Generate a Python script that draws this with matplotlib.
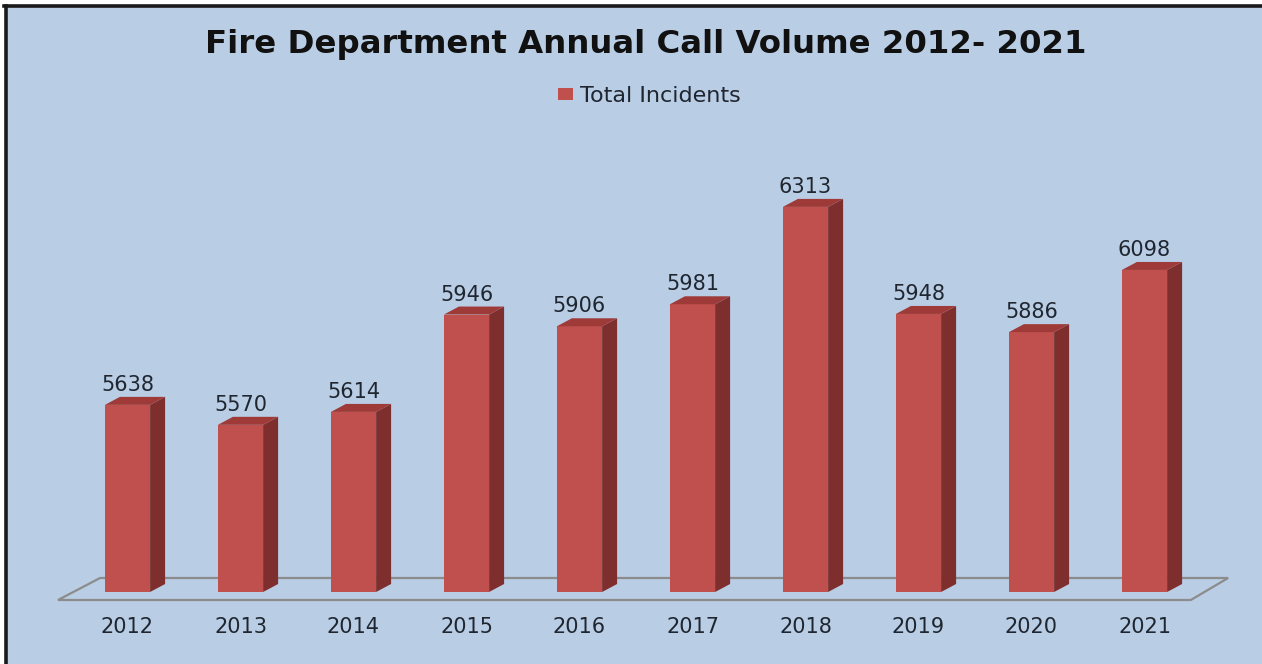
import matplotlib
matplotlib.use("Agg")
import matplotlib.pyplot as plt
from matplotlib.patches import Polygon, Rectangle, Patch
from matplotlib.lines import Line2D
import numpy as np

# ---- data ----
years = ["2012", "2013", "2014", "2015", "2016", "2017", "2018", "2019", "2020", "2021"]
incidents = [5638, 5570, 5614, 5946, 5906, 5981, 6313, 5948, 5886, 6098]
series_name = "Total Incidents"
title = "Fire Department Annual Call Volume 2012- 2021"

# ---- style ----
W, H, DPI = 1262, 664, 100
BG = "#B9CDE5"
FRONT = "#C0504D"
SIDE = "#7E2F2D"
TOP = "#9E3B38"
TXT = "#1F2630"
FLOOR = "#8C8C8C"
BASE = 5000
PX_PER_CAT = 113.0
PX_PER_UNIT = 0.2933
X0_PX = 127.5      # pixel x of first category centre
BASE_PX = 592.0    # pixel y of the bar base
BAR_W = 0.40
DEPTH_PX = (15, 8)

fig = plt.figure(figsize=(W / DPI, H / DPI), dpi=DPI, facecolor="white")
# framed background
fig.patches.append(Rectangle((5.5 / W, 0), 1.0, 1 - 5.5 / H,
                             transform=fig.transFigure, facecolor=BG,
                             edgecolor="none", zorder=-5))
fig.lines.append(Line2D([5.5 / W, 5.5 / W], [0, 1 - 5.5 / H], transform=fig.transFigure,
                        color="#1a1a1a", linewidth=2.6, zorder=-4))
fig.lines.append(Line2D([4.2 / W, 1], [1 - 5.5 / H, 1 - 5.5 / H], transform=fig.transFigure,
                        color="#1a1a1a", linewidth=2.6, zorder=-4))

ax = fig.add_axes([0, 0, 1, 1])
ax.set_facecolor("none")
ax.set_axis_off()
xlim = (-X0_PX / PX_PER_CAT, (W - X0_PX) / PX_PER_CAT)
ylim = (BASE - (H - BASE_PX) / PX_PER_UNIT, BASE + BASE_PX / PX_PER_UNIT)
ax.set_xlim(*xlim)
ax.set_ylim(*ylim)

dx = DEPTH_PX[0] / PX_PER_CAT
dy = DEPTH_PX[1] / PX_PER_UNIT

x = np.arange(len(years))
vals = np.array(incidents, dtype=float)

# floor (parallelogram)
front_y = BASE - 8 / PX_PER_UNIT
back_y = BASE + 14 / PX_PER_UNIT
floor = Polygon([(x[0] - 0.615, front_y), (x[-1] + 0.41, front_y),
                 (x[-1] + 0.74, back_y), (x[0] - 0.243, back_y)],
                closed=True, facecolor="none", edgecolor=FLOOR, linewidth=1.6, zorder=1)
ax.add_patch(floor)

# front faces
ax.bar(x, vals - BASE, bottom=BASE, width=BAR_W, color=FRONT, zorder=3, label=series_name)

for xi, v in zip(x, vals):
    r = xi + BAR_W / 2
    l = xi - BAR_W / 2
    side = Polygon([(r, BASE), (r + dx, BASE + dy), (r + dx, v + dy), (r, v)],
                   closed=True, facecolor=SIDE, edgecolor="none", zorder=3)
    top = Polygon([(l, v), (r, v), (r + dx, v + dy), (l + dx, v + dy)],
                  closed=True, facecolor=TOP, edgecolor="none", zorder=3)
    ax.add_patch(side)
    ax.add_patch(top)
    ax.annotate(f"{int(v)}", (xi, v), xytext=(0, 10), textcoords="offset points",
                ha="center", va="baseline", fontsize=15, color=TXT, zorder=5)

for xi, lab in zip(x, years):
    ax.annotate(lab, (xi, BASE), xytext=(0, -29.5), textcoords="offset points",
                ha="center", va="baseline", fontsize=15, color=TXT)

fig.text(646 / W, 1 - 53 / H, title, ha="center", va="baseline",
         fontsize=23.3, fontweight="bold", color="#111111")

leg = fig.legend(handles=[Patch(facecolor=FRONT, edgecolor="none")], labels=[series_name],
                 loc="center", bbox_to_anchor=(649 / W, 1 - 96 / H),
                 frameon=False, fontsize=16, handlelength=0.7, handleheight=0.5,
                 handletextpad=0.3, borderpad=0)
for t in leg.get_texts():
    t.set_color(TXT)

fig.savefig("out.png", dpi=DPI, facecolor=fig.get_facecolor())
